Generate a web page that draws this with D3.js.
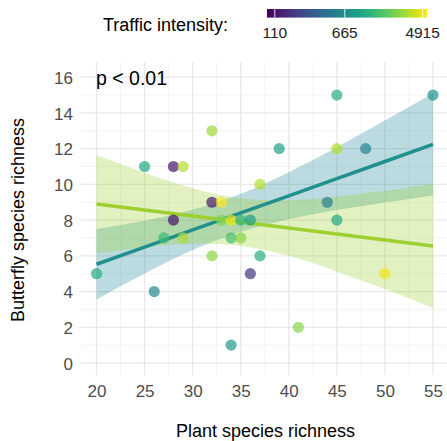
<!DOCTYPE html>
<html>
<head>
<meta charset="utf-8">
<script src="https://cdn.jsdelivr.net/npm/d3@7"></script>
<style>
  html, body { margin: 0; padding: 0; background: #fff; }
  svg { display: block; font-family: "Liberation Sans", Arial, sans-serif; }
</style>
</head>
<body>
<svg id="chart" width="447" height="441"></svg>
<script>
// Sites: plant richness, butterfly richness and traffic intensity (vehicles/day)
const plantRichness     = [25, 28, 29, 32, 32, 33, 37, 45, 55, 39, 45, 48, 44, 20, 28, 27, 29, 26, 32, 33, 34, 35, 36, 34, 35, 37, 36, 34, 45, 50, 41];
const butterflyRichness = [11, 11, 11, 13,  9,  9, 10, 15, 15, 12, 12, 12,  9,  5,  8,  7,  7,  4,  6,  8,  8,  8,  8,  7,  7,  6,  5,  1,  8,  5,  2];
const trafficIntensity  = [1060, 110, 3360, 2960, 120, 5400, 3360, 1150, 760, 980, 3360, 570, 510, 1150, 110, 1470, 3220, 620, 2730, 2420, 4850, 1300, 860, 1600, 2620, 1200, 170, 860, 1060, 5050, 2620];

// Colour scale range and legend breaks
const trafficRange = [90, 5500];
const trafficBreaks = [110, 665, 4915];

// Linear model fits with 95% confidence bands
const fitX        = [20, 25, 30, 35, 40, 45, 50, 55];
const lowFit      = [5.53, 6.49, 7.45, 8.41, 9.36, 10.32, 11.28, 12.24];
const lowLower    = [3.56, 5.01, 6.32, 7.35, 8.05, 8.56, 8.99, 9.38];
const lowUpper    = [7.50, 7.97, 8.58, 9.47, 10.68, 12.08, 13.57, 15.10];
const highFit     = [8.90, 8.56, 8.23, 7.89, 7.56, 7.22, 6.89, 6.55];
const highLower   = [6.15, 6.47, 6.67, 6.55, 6.00, 5.13, 4.14, 3.08];
const highUpper   = [11.65, 10.65, 9.79, 9.23, 9.12, 9.31, 9.64, 10.02];

// Axis ticks
const xTicks = [20, 25, 30, 35, 40, 45, 50, 55];
const xMinor = [22.5, 27.5, 32.5, 37.5, 42.5, 47.5, 52.5];
const yTicks = [0, 2, 4, 6, 8, 10, 12, 14, 16];
const yMinor = [1, 3, 5, 7, 9, 11, 13, 15];

const svg = d3.select("#chart");
const panel = { left: 79.7, right: 449.8, top: 62, bottom: 375 };

const x = d3.scaleLinear().domain([18.25, 56.75]).range([panel.left, panel.right]);
const y = d3.scaleLinear().domain([-0.67, 16.85]).range([panel.bottom, panel.top]);
const colour = d3.scaleSequentialLog(d3.interpolateViridis).domain(trafficRange);

const lowColour = "#21908c";
const highColour = "#9dcf30";

// Grid
const grid = svg.append("g");
grid.selectAll(".xminor").data(xMinor).join("line")
  .attr("x1", d => x(d)).attr("x2", d => x(d))
  .attr("y1", panel.top).attr("y2", panel.bottom)
  .attr("stroke", "#f0f0f0").attr("stroke-width", 0.8);
grid.selectAll(".yminor").data(yMinor).join("line")
  .attr("y1", d => y(d)).attr("y2", d => y(d))
  .attr("x1", panel.left).attr("x2", panel.right)
  .attr("stroke", "#f0f0f0").attr("stroke-width", 0.8);
grid.selectAll(".xmajor").data(xTicks).join("line")
  .attr("x1", d => x(d)).attr("x2", d => x(d))
  .attr("y1", panel.top).attr("y2", panel.bottom)
  .attr("stroke", "#e8e8e8").attr("stroke-width", 1.3);
grid.selectAll(".ymajor").data(yTicks).join("line")
  .attr("y1", d => y(d)).attr("y2", d => y(d))
  .attr("x1", panel.left).attr("x2", panel.right)
  .attr("stroke", "#e8e8e8").attr("stroke-width", 1.3);

// Confidence bands
function band(lo, hi) {
  return d3.area()
    .x((d, i) => x(fitX[i]))
    .y0((d, i) => y(lo[i]))
    .y1((d, i) => y(hi[i]))
    .curve(d3.curveNatural)(fitX);
}
svg.append("path").attr("d", band(lowLower, lowUpper))
  .attr("fill", "#2a8e9e").attr("fill-opacity", 0.32);
svg.append("path").attr("d", band(highLower, highUpper))
  .attr("fill", highColour).attr("fill-opacity", 0.3);

// Fitted lines
const fitLine = vals => d3.line().x((d, i) => x(fitX[i])).y((d, i) => y(vals[i]))(fitX);
svg.append("path").attr("d", fitLine(lowFit))
  .attr("fill", "none").attr("stroke", lowColour).attr("stroke-width", 3.5);
svg.append("path").attr("d", fitLine(highFit))
  .attr("fill", "none").attr("stroke", highColour).attr("stroke-width", 3.5);

// Sites
svg.append("g").selectAll("circle").data(plantRichness).join("circle")
  .attr("cx", d => x(d))
  .attr("cy", (d, i) => y(butterflyRichness[i]))
  .attr("r", 5.6)
  .attr("fill", (d, i) => colour(trafficIntensity[i]))
  .attr("fill-opacity", 0.7);

// Axes labels
const xAxis = d3.axisBottom(x).tickValues(xTicks).tickSize(0).tickPadding(0);
const gx = svg.append("g").attr("transform", `translate(0,${panel.bottom})`).call(xAxis);
gx.select(".domain").remove();
gx.selectAll("text").attr("y", 22).attr("dy", 0)
  .attr("font-size", 17).attr("fill", "#4d4d4d")
  .attr("font-family", "'Liberation Sans', Arial, sans-serif");

const yAxis = d3.axisLeft(y).tickValues(yTicks).tickSize(0).tickPadding(0);
const gy = svg.append("g").attr("transform", `translate(73,0)`).call(yAxis);
gy.select(".domain").remove();
gy.selectAll("text").attr("x", 0).attr("dy", "0.36em")
  .attr("font-size", 17).attr("fill", "#4d4d4d")
  .attr("font-family", "'Liberation Sans', Arial, sans-serif");

svg.append("text").attr("x", 265.5).attr("y", 437)
  .attr("text-anchor", "middle").attr("font-size", 18).attr("fill", "#000")
  .text("Plant species richness");
svg.append("text")
  .attr("transform", "translate(24,220) rotate(-90)")
  .attr("text-anchor", "middle").attr("font-size", 18).attr("fill", "#000")
  .text("Butterfly species richness");

svg.append("text").attr("x", 96).attr("y", 85)
  .attr("font-size", 19.5).attr("fill", "#000")
  .text("p < 0.01");

// Colour legend
const legX = d3.scaleLog().domain(trafficRange).range([267, 427]);
const defs = svg.append("defs");
const grad = defs.append("linearGradient").attr("id", "trafficGrad");
d3.range(0, 1.0001, 0.05).forEach(t => {
  grad.append("stop").attr("offset", t)
    .attr("stop-color", d3.interpolateViridis(t));
});
svg.append("rect").attr("x", legX.range()[0]).attr("y", 9)
  .attr("width", legX.range()[1] - legX.range()[0]).attr("height", 8.6)
  .attr("fill", "url(#trafficGrad)");
svg.append("g").selectAll("line").data(trafficBreaks).join("line")
  .attr("x1", d => legX(d)).attr("x2", d => legX(d))
  .attr("y1", 9).attr("y2", 17.6)
  .attr("stroke", "#fff").attr("stroke-width", 1).attr("stroke-opacity", 0.85);
svg.append("g").selectAll("text").data(trafficBreaks).join("text")
  .attr("x", d => legX(d)).attr("y", 37.5)
  .attr("text-anchor", "middle").attr("font-size", 15.5).attr("fill", "#222")
  .text(d => d);
svg.append("text").attr("x", 103).attr("y", 31)
  .attr("font-size", 18).attr("fill", "#000")
  .text("Traffic intensity:");
</script>
</body>
</html>
